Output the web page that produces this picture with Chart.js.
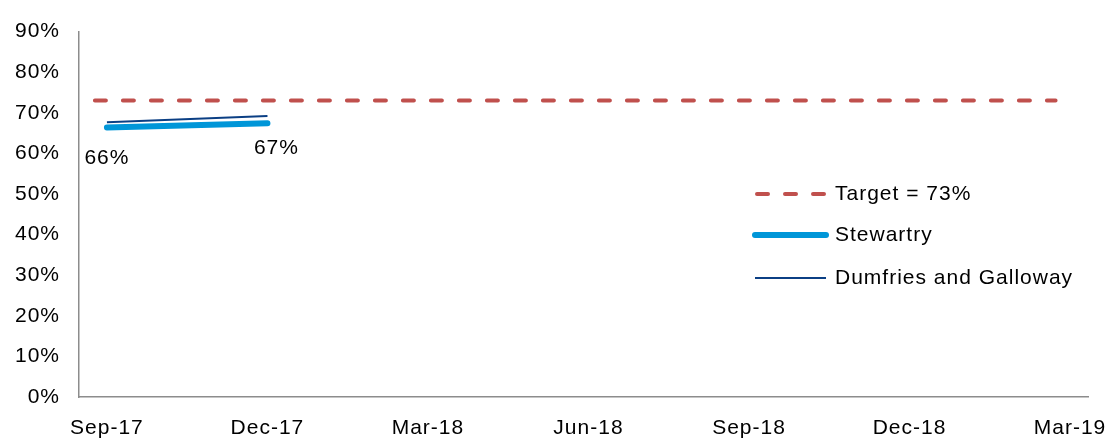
<!DOCTYPE html>
<html>
<head>
<meta charset="utf-8">
<script src="https://cdn.jsdelivr.net/npm/chart.js@4"></script>
<style>
  html, body { margin: 0; padding: 0; background: #fff; }
  #wrap { width: 1106px; height: 439px; position: relative; }
</style>
</head>
<body>
<div id="wrap"><canvas id="myChart"></canvas></div>
<script>
// quarters on the x axis
const quarters = ["Sep-17", "Dec-17", "Mar-18", "Jun-18", "Sep-18", "Dec-18", "Mar-19"];
// % values, only first two quarters reported
const stewartry = [66.4, 67.4];
const dumfriesGalloway = [67.7, 69.2];
// target line: value and the span (in quarter index units) it runs over
const targetValue = 73;
const targetSpan = [-0.075, 5.91];
const yTicks = [0, 10, 20, 30, 40, 50, 60, 70, 80, 90];

const FONT = "'Liberation Sans', Arial, sans-serif";
const FONT_SIZE = 21;

const toPoints = (vals) => vals.map((v, i) => ({ x: i, y: v }));

// the original text is a bit wider than Arial, widen it a little
const wideText = {
  id: "wideText",
  beforeDraw(chart) {
    chart.ctx.letterSpacing = "1px";
  },
};

// draws the % labels under Stewartry points
const valueLabels = {
  id: "valueLabels",
  afterDatasetsDraw(chart) {
    const ctx = chart.ctx;
    const meta = chart.getDatasetMeta(1);
    ctx.save();
    ctx.font = FONT_SIZE + "px " + FONT;
    ctx.fillStyle = "#000";
    ctx.textAlign = "center";
    ctx.textBaseline = "middle";
    meta.data.forEach((pt, i) => {
      const dx = i === 0 ? 0 : 9;
      const dy = i === 0 ? 31 : 25;
      ctx.fillText(Math.round(stewartry[i]) + "%", pt.x + dx, pt.y + dy);
    });
    ctx.restore();
  },
};

// legend drawn inside the plot, at the right side
const insideLegend = {
  id: "insideLegend",
  afterDraw(chart) {
    const ctx = chart.ctx;
    const x0 = 755, x1 = 826, tx = 835;
    const rows = [194, 235, 278];
    ctx.save();
    chart.data.datasets.forEach((ds, i) => {
      const y = rows[i];
      ctx.beginPath();
      ctx.strokeStyle = ds.borderColor;
      ctx.lineWidth = ds.borderWidth;
      ctx.lineCap = ds.borderCapStyle || "butt";
      ctx.setLineDash(ds.borderDash || []);
      ctx.moveTo(x0 + (ds.borderDash ? 2 : 0), y);
      ctx.lineTo(x1, y);
      ctx.stroke();
      ctx.setLineDash([]);
      ctx.font = FONT_SIZE + "px " + FONT;
      ctx.fillStyle = "#000";
      ctx.textAlign = "left";
      ctx.textBaseline = "middle";
      ctx.fillText(ds.label, tx, y);
    });
    ctx.restore();
  },
};

new Chart(document.getElementById("myChart"), {
  type: "line",
  data: {
    datasets: [
      {
        label: "Target = " + targetValue + "%",
        data: targetSpan.map((x) => ({ x: x, y: targetValue })),
        borderColor: "#C0504D",
        borderWidth: 4,
        borderDash: [11, 17],
        borderCapStyle: "round",
        pointRadius: 0,
      },
      {
        label: "Stewartry",
        data: toPoints(stewartry),
        borderColor: "#0096D8",
        borderWidth: 6,
        borderCapStyle: "round",
        pointRadius: 0,
      },
      {
        label: "Dumfries and Galloway",
        data: toPoints(dumfriesGalloway),
        borderColor: "#0B3F84",
        borderWidth: 2,
        pointRadius: 0,
      },
    ],
  },
  options: {
    responsive: true,
    maintainAspectRatio: false,
    animation: false,
    layout: { padding: { left: 0, top: 28, right: 18, bottom: 0 } },
    plugins: { legend: { display: false }, tooltip: { enabled: false } },
    scales: {
      x: {
        type: "linear",
        min: -0.174,
        max: 6.112,
        grid: { display: false, drawTicks: false },
        border: { display: true, color: "#8C8C8C", width: 1.5 },
        afterFit: (scale) => {
          scale.height = 42;
          scale.paddingLeft = 0;
          scale.paddingRight = 0;
        },
        ticks: {
          stepSize: 1,
          includeBounds: false,
          autoSkip: false,
          maxRotation: 0,
          padding: 21,
          color: "#000",
          font: { family: FONT, size: FONT_SIZE, lineHeight: 1 },
          callback: (v) => quarters[v] || "",
        },
      },
      y: {
        min: yTicks[0],
        max: yTicks[yTicks.length - 1],
        grid: { display: false, drawTicks: false },
        border: { display: true, color: "#8C8C8C", width: 1.5 },
        afterBuildTicks: (axis) => { axis.ticks = yTicks.map((v) => ({ value: v })); },
        afterFit: (scale) => { scale.width = 79; },
        ticks: {
          padding: 19,
          color: "#000",
          font: { family: FONT, size: FONT_SIZE },
          callback: (v) => v + "%",
        },
      },
    },
  },
  plugins: [wideText, valueLabels, insideLegend],
});
</script>
</body>
</html>
